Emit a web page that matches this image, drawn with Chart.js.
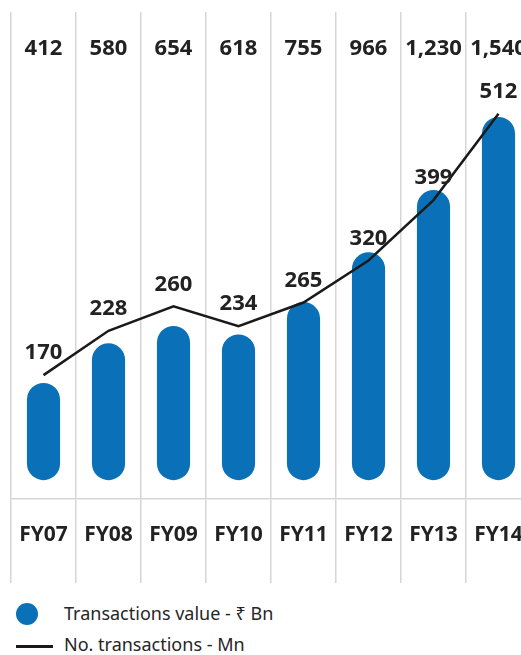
<!DOCTYPE html>
<html>
<head>
<meta charset="utf-8">
<script src="https://cdn.jsdelivr.net/npm/chart.js@4"></script>
<style>
  body { margin: 0; width: 521px; height: 655px; overflow: hidden; background: #fff; position: relative; font-family: "Noto Sans", sans-serif; }
  #wrap { position: absolute; left: 0; top: 0; }
  .legend { position: absolute; left: 64px; font-size: 18px; color: #262626; white-space: nowrap; }
  .dot { position: absolute; left: 16px; top: 603px; width: 22px; height: 22px; border-radius: 50%; background: #0a71b8; }
  .dash { position: absolute; left: 16px; top: 645px; width: 37px; height: 2.5px; background: #1a1a1a; }
</style>
</head>
<body>
<div id="wrap"><canvas id="myChart" width="545" height="590"></canvas></div>
<div class="dot"></div>
<div class="legend" style="top:601px">Transactions value - ₹ Bn</div>
<div class="dash"></div>
<div class="legend" style="top:632px">No. transactions - Mn</div>
<script>
const years = ["FY07", "FY08", "FY09", "FY10", "FY11", "FY12", "FY13", "FY14"];
const valueBn = [412, 580, 654, 618, 755, 966, 1230, 1540];
const countMn = [170, 228, 260, 234, 265, 320, 399, 512];

const blue = "#0a71b8",
  ink = "#222222",
  gridGrey = "#d6d6d6";

// numbers on top row + above the line points
const labelPlugin = {
  id: "labels",
  afterDatasetsDraw(chart) {
    const ctx = chart.ctx;
    ctx.save();
    ctx.fillStyle = ink;
    ctx.font = "bold 22px 'Noto Sans'";
    ctx.textAlign = "center";
    ctx.textBaseline = "middle";
    const bars = chart.getDatasetMeta(0).data;
    bars.forEach((bar, i) => {
      ctx.fillText(valueBn[i].toLocaleString("en-US"), bar.x, chart.chartArea.top + 37);
    });
    const pts = chart.getDatasetMeta(1).data;
    pts.forEach((p, i) => {
      ctx.fillText(countMn[i], p.x, p.y - 22);
    });
    ctx.restore();
  },
};

let chart = new Chart("myChart", {
  type: "bar",
  data: {
    labels: years,
    datasets: [
      {
        label: "Transactions value - ₹ Bn",
        data: valueBn,
        backgroundColor: blue,
        borderRadius: 17,
        borderSkipped: false,
        categoryPercentage: 1,
        barPercentage: 0.51,
        yAxisID: "y",
        order: 2,
      },
      {
        type: "line",
        label: "No. transactions - Mn",
        data: countMn,
        borderColor: "#1a1a1a",
        borderWidth: 2.5,
        pointRadius: 0,
        tension: 0,
        yAxisID: "y2",
        order: 1,
      },
    ],
  },
  options: {
    responsive: false,
    animation: false,
    devicePixelRatio: 1,
    layout: { padding: { left: 11, top: 12, right: 14, bottom: 7 } },
    plugins: {
      legend: { display: false },
      tooltip: { enabled: false },
    },
    scales: {
      x: {
        offset: true,
        grid: {
          offset: true,
          color: gridGrey,
          lineWidth: 1.5,
          tickLength: 84,
          tickColor: gridGrey,
        },
        border: { display: true, color: gridGrey, width: 1.5 },
        ticks: {
          color: ink,
          font: { family: "'Noto Sans'", size: 21, weight: "bold" },
          padding: -61,
          maxRotation: 0,
          autoSkip: false,
        },
        afterFit: (scale) => {
          scale.height = 84;
        },
      },
      y: { display: false, min: -80, max: 1985 },
      y2: { display: false, min: 8, max: 645 },
    },
  },
  plugins: [labelPlugin],
});
</script>
</body>
</html>
